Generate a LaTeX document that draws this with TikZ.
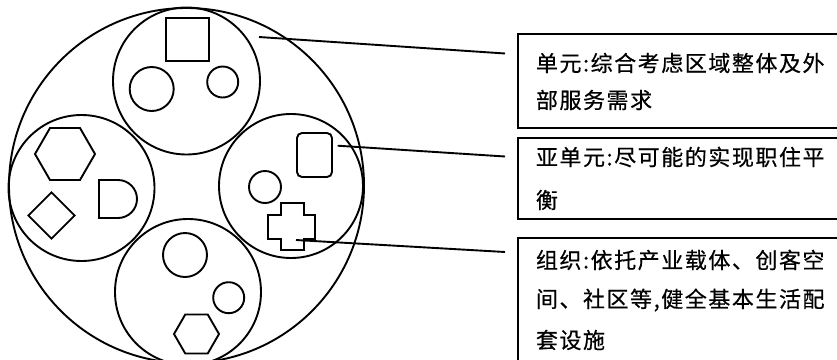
\documentclass[tikz,border=0pt]{standalone}
\usepackage{fontspec}
\usetikzlibrary{shapes.geometric}
\newfontfamily\cjk[LetterSpace=7, FakeBold=0.5]{Noto Sans CJK SC}
\begin{document}
\begin{tikzpicture}[x=1pt,y=-1pt, line width=1.9pt,
  ring/.style={draw, circle, inner sep=0pt},
  sqbox/.style={draw, rectangle, inner sep=0pt},
  infobox/.style={draw, rectangle, anchor=north west, inner sep=0pt, minimum width=333pt},
  txt/.style={anchor=west, inner sep=0pt, font=\cjk\fontsize{22}{22}\selectfont},
  lead/.style={line width=1.9pt}]
\clip (0,0) rectangle (837,359);
\useasboundingbox (0,0) rectangle (837,359);
% main circles
\node[ring, minimum size=355pt] (outer) at (186.5,185.5) {};
\node[ring, minimum size=147pt] (top) at (186.5,81) {};
\node[ring, minimum size=146pt] (left) at (81.5,188) {};
\node[ring, minimum size=144pt] (right) at (291,186) {};
\node[ring, minimum size=146pt] (bottom) at (188,292) {};
% top contents
\node[sqbox, minimum width=43pt, minimum height=43pt] (sq) at (187.5,39.5) {};
\node[ring, minimum size=44pt] (tc1) at (151.7,89) {};
\node[ring, minimum size=31pt] (tc2) at (222.7,82) {};
% left contents
\draw[shift={(65,154)}] (0:30) -- (60:30) -- (120:30) -- (180:30) -- (240:30) -- (300:30) -- cycle;
\node[draw, diamond, aspect=1, inner sep=0pt, minimum size=47pt] (dia) at (51.5,215.5) {};
\draw (118,180) -- (99,180) -- (99,218) -- (118,218) arc (90:-90:19);
% right contents
\node[sqbox, rounded corners=5pt, minimum width=35pt, minimum height=44pt] (rr) at (314.5,155) {};
\node[ring, minimum size=32pt] (rc) at (265,187) {};
\draw (281,203) -- (304,203) -- (304,215) -- (315,215) -- (315,239) -- (304,239) -- (304,250) -- (281,250) -- (281,239) -- (268,239) -- (268,215) -- (281,215) -- cycle;
% bottom contents
\node[ring, minimum size=44pt] (bc1) at (185,255) {};
\node[ring, minimum size=31pt] (bc2) at (228.7,297.7) {};
\draw[shift={(196.5,334)}] (0:22.5) -- (60:22.5) -- (120:22.5) -- (180:22.5) -- (240:22.5) -- (300:22.5) -- cycle;
% boxes
\node[infobox, minimum height=94pt] (b1) at (517,33) {};
\node[infobox, minimum height=81pt] (b2) at (517,137) {};
\node[infobox, minimum height=133pt] (b3) at (517,237) {};
\node[txt] (t11) at (535,63) {单元:综合考虑区域整体及外};
\node[txt] (t12) at (535,100) {部服务需求};
\node[txt] (t21) at (535,157) {亚单元:尽可能的实现职住平};
\node[txt] (t22) at (535,200) {衡};
\node[txt] (t31) at (535,260) {组织:依托产业载体、创客空};
\node[txt] (t32) at (535,300) {间、社区等,健全基本生活配};
\node[txt] (t33) at (535,340) {套设施};
% leaders
\coordinate (s1) at (259,37);
\coordinate (e1) at (505,53.5);
\coordinate (s2) at (337.7,145.7);
\coordinate (e2) at (505,156.5);
\coordinate (s3) at (296,240);
\coordinate (e3) at (505,252);
\draw[lead] (s1) -- (e1);
\draw[lead] (s2) -- (e2);
\draw[lead] (s3) -- (e3);
\end{tikzpicture}
\end{document}
